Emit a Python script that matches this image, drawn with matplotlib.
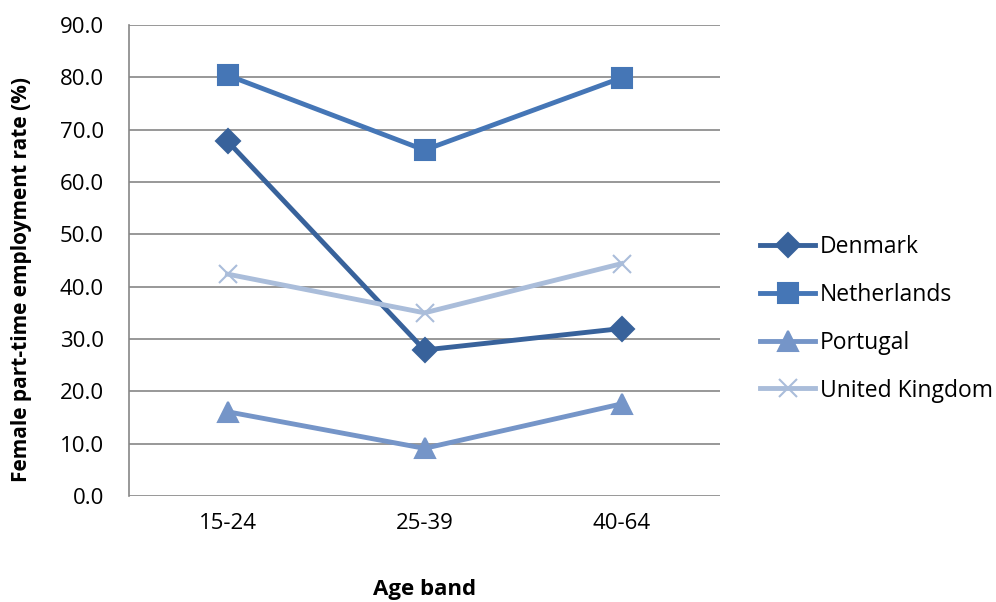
import matplotlib
matplotlib.use("Agg")
import matplotlib.pyplot as plt

categories = ["15-24", "25-39", "40-64"]
denmark = [67.8, 27.9, 32.0]
netherlands = [80.4, 66.1, 79.9]
portugal = [16.1, 9.1, 17.6]
uk = [42.4, 35.0, 44.4]
series_names = ["Denmark", "Netherlands", "Portugal", "United Kingdom"]
yticks = [0, 10, 20, 30, 40, 50, 60, 70, 80, 90]

plt.rcParams['font.family'] = ['Open Sans', 'DejaVu Sans']

W, H = 996, 602
fig = plt.figure(figsize=(W/100, H/100), dpi=100)
ax = fig.add_axes([129/W, 1-496/H, (720-129)/W, (496-25)/H])

x = list(range(len(categories)))
styles = [
    (denmark, "#38629B", "D", 12),
    (netherlands, "#4576B6", "s", 14),
    (portugal, "#7595C8", "^", 14.5),
    (uk, "#AABDDA", "x", 13),
]
handles = []
for (vals, col, mk, ms), name in zip(styles, series_names):
    ln, = ax.plot(x, vals, color=col, lw=3.5, marker=mk, markersize=ms,
                  markeredgewidth=1.5, markerfacecolor=col,
                  markeredgecolor=col, label=name, solid_joinstyle="miter")
    handles.append(ln)

ax.set_xlim(-0.5, 2.5)
ax.set_ylim(0, 90)
ax.set_yticks(yticks)
ax.set_yticklabels([f"{v:.1f}" for v in yticks], fontsize=16)
ax.set_xticks(x)
ax.set_xticklabels(categories, fontsize=16)
ax.tick_params(axis='x', length=0, pad=12)
ax.tick_params(axis='y', length=0, pad=18)
ax.yaxis.grid(True, color="#868686", lw=1.2)
ax.set_axisbelow(True)
for s in ["top", "right", "bottom"]:
    ax.spines[s].set_visible(False)
ax.spines["left"].set_color("#868686")
ax.spines["left"].set_linewidth(1.2)

fig.text(22/W, 1-280/H, "Female part-time employment rate (%)", rotation=90,
         ha="center", va="center", fontsize=15, fontweight="bold")
fig.text(425/W, 1-590/H, "Age band", ha="center", va="center",
         fontsize=16, fontweight="bold")

leg = fig.legend(handles=handles, labels=series_names, loc="upper left",
                 bbox_to_anchor=(760/W, 1-235/H), frameon=False, fontsize=16.5,
                 handlelength=2.4, handletextpad=0.2, labelspacing=1.04,
                 borderpad=0, borderaxespad=0)

fig.savefig("out.png", dpi=100)
